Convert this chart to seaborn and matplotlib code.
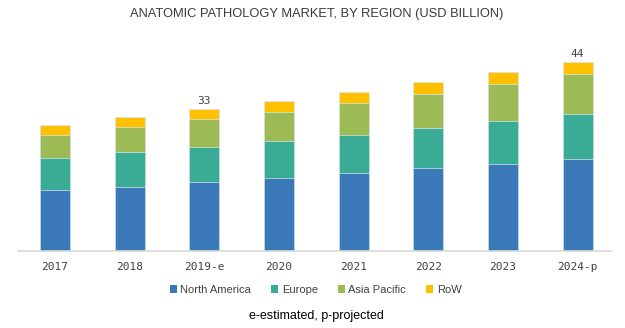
import matplotlib
matplotlib.use("Agg")
import matplotlib.pyplot as plt
from matplotlib.patches import Patch
import numpy as np
import pandas as pd
import seaborn as sns

years = ["2017", "2018", "2019-e", "2020", "2021", "2022", "2023", "2024-p"]
north_america = [14.2, 14.9, 15.9, 16.9, 18.0, 19.2, 20.2, 21.4]
europe = [7.4, 8.0, 8.2, 8.6, 9.0, 9.4, 10.0, 10.4]
asia_pacific = [5.4, 5.9, 6.5, 6.8, 7.4, 7.9, 8.6, 9.3]
row = [2.3, 2.3, 2.4, 2.6, 2.6, 2.7, 2.7, 2.9]
labelled_years = {"2019-e": "33", "2024-p": "44"}

regions = ["North America", "Europe", "Asia Pacific", "RoW"]
colors = ["#3a78b8", "#3aab94", "#9dbb55", "#ffc000"]

df = pd.DataFrame({
    "year": years,
    "North America": north_america,
    "Europe": europe,
    "Asia Pacific": asia_pacific,
    "RoW": row,
})
# cumulative heights so each layer can be drawn over the one above it
cum = df[regions].cumsum(axis=1)

sns.set_theme(style="white")
plt.rcParams["font.family"] = ["Liberation Sans", "DejaVu Sans"]

fig = plt.figure(figsize=(6.25, 3.28), dpi=100)
ax = fig.add_axes([18 / 625, (328 - 250.7) / 328, 594 / 625, 206.4 / 328])

for reg, col in reversed(list(zip(regions, colors))):
    sns.barplot(x=df["year"], y=cum[reg], color=col, width=0.40, ax=ax,
                edgecolor="#d8e4f0", linewidth=0.5, saturation=1)

ax.set_xlim(-0.495, 7.46)
ax.set_ylim(0, 48)
ax.set_xlabel("")
ax.set_ylabel("")
ax.set_yticks([])
for s in ["top", "right", "left"]:
    ax.spines[s].set_visible(False)
ax.spines["bottom"].set_color("#d9d9d9")
ax.spines["bottom"].set_linewidth(1.2)
ax.tick_params(axis="x", length=0, pad=8, labelsize=8.5, labelcolor="#404040")
for t in ax.get_xticklabels():
    t.set_fontfamily(["DejaVu Sans Mono", "DejaVu Sans"])
    t.set_fontsize(8)

totals = cum["RoW"].values
for i, y in enumerate(years):
    if y in labelled_years:
        ax.text(i, totals[i] + 0.6, labelled_years[y], ha="center", va="bottom",
                fontsize=8, color="#404040", family=["DejaVu Sans Mono"])

fig.text(317 / 625, 1 - 14 / 328, "ANATOMIC PATHOLOGY MARKET, BY REGION (USD BILLION)",
         ha="center", va="center", fontsize=9.3, color="#3a3a3a",
         family=["Liberation Sans Narrow", "Liberation Sans"])

handles = [Patch(facecolor=c, edgecolor="none") for c in colors]
fig.legend(handles, regions, loc="center", bbox_to_anchor=(0.505, 1 - 290 / 328),
           ncol=4, frameon=False, fontsize=8, handlelength=0.65, handleheight=0.65,
           handletextpad=0.3, columnspacing=1.8, labelcolor="#404040")

fig.text(0.507, 1 - 316 / 328, "e-estimated, p-projected", ha="center", va="center",
         fontsize=9, color="#000000")

fig.savefig("out.png", dpi=100)
